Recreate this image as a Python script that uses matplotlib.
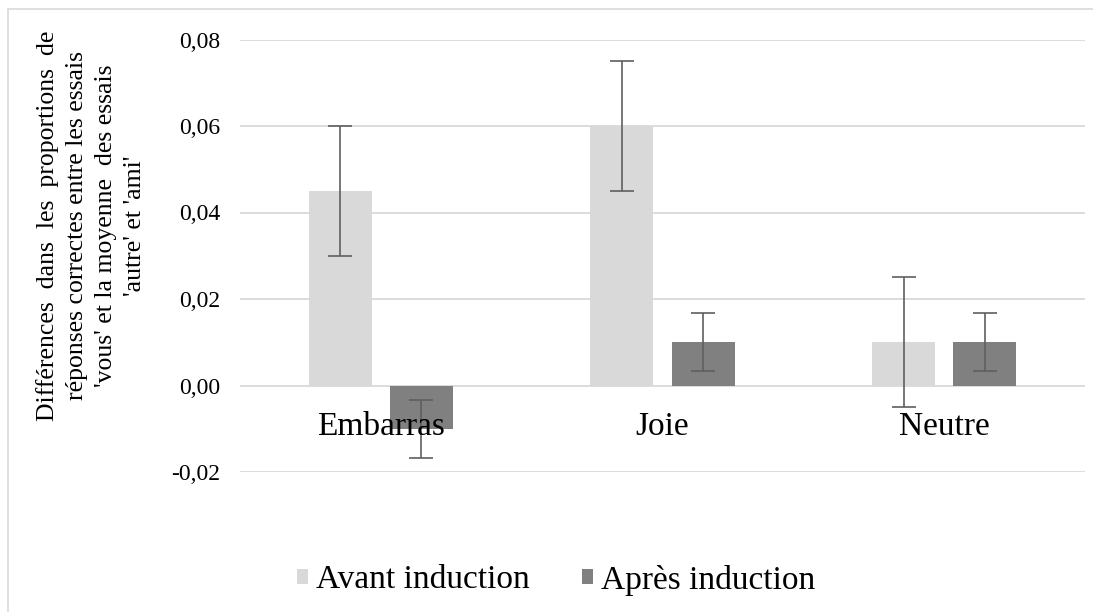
import numpy as np
import matplotlib
matplotlib.use("Agg")
import matplotlib.pyplot as plt
from matplotlib.patches import Rectangle
from matplotlib.ticker import FuncFormatter

plt.rcParams['font.family'] = ['Liberation Serif', 'DejaVu Serif']

# data
categories = ["Embarras", "Joie", "Neutre"]
avant = [0.045, 0.060, 0.010]
avant_err = [0.015, 0.015, 0.015]
apres = [-0.010, 0.010, 0.010]
apres_err = [0.0067, 0.0067, 0.0067]
series_names = ["Avant induction", "Après induction"]
yticks = [-0.02, 0.00, 0.02, 0.04, 0.06, 0.08]

C_AVANT = '#d9d9d9'
C_APRES = '#808080'
C_ERR = '#5f5f5f'
C_GRID = '#d9d9d9'

fig = plt.figure(figsize=(10.93, 6.12), dpi=100)
ax = fig.add_axes([240/1093, 1 - 472/612, 845/1093, (472 - 39.5)/612])

x_pos = np.arange(len(categories))
w = 0.2234
off = 0.144
err_kw = dict(ecolor=C_ERR, elinewidth=1.2, capthick=1.2, capsize=8.5)
b1 = ax.bar(x_pos - off, avant, width=w, color=C_AVANT, yerr=avant_err,
            error_kw=err_kw, label=series_names[0], zorder=2)
b2 = ax.bar(x_pos + off, apres, width=w, color=C_APRES, yerr=apres_err,
            error_kw=err_kw, label=series_names[1], zorder=2)

ax.set_xlim(-0.5, len(categories) - 0.5)
ax.set_ylim(yticks[0], yticks[-1])
ax.set_yticks(yticks)
ax.yaxis.set_major_formatter(FuncFormatter(lambda v, p: ('%.2f' % v).replace('.', ',')))
ax.tick_params(axis='y', length=0, pad=14, labelsize=17, labelcolor='black')
ax.yaxis.grid(True, color=C_GRID, linewidth=1.3)
ax.set_axisbelow(True)

# category labels sit right under the zero line, drawn above the bars
ax.spines['bottom'].set_position(('data', 0))
ax.set_xticks(x_pos)
ax.set_xticklabels(categories)
ax.tick_params(axis='x', length=0, pad=19, labelsize=24, labelcolor='black')
ax.xaxis.set_zorder(3)
for s in ax.spines.values():
    s.set_visible(False)

fig.text(91/1093, 1 - 226/612,
         "Différences  dans  les  proportions  de\n"
         "réponses correctes entre les essais\n"
         "'vous' et la moyenne  des essais\n"
         "'autre' et 'ami'",
         rotation=90, ha='center', va='center', multialignment='center',
         fontsize=18.5, linespacing=1.4)

leg = fig.legend(handles=[b1, b2], labels=series_names, loc='center',
                 bbox_to_anchor=(556/1093, 1 - 580/612), ncol=2, frameon=False,
                 fontsize=24, handlelength=0.33, handleheight=0.33,
                 handletextpad=0.25, columnspacing=1.55)

# chart area frame (cut off at the right and bottom)
fig.patches.append(Rectangle((8/1093, -0.1), 1.2, 0.1 + (612 - 9)/612,
                             transform=fig.transFigure, fill=False,
                             edgecolor='#d9d9d9', linewidth=1.2))

plt.savefig("out.png", dpi=100)
